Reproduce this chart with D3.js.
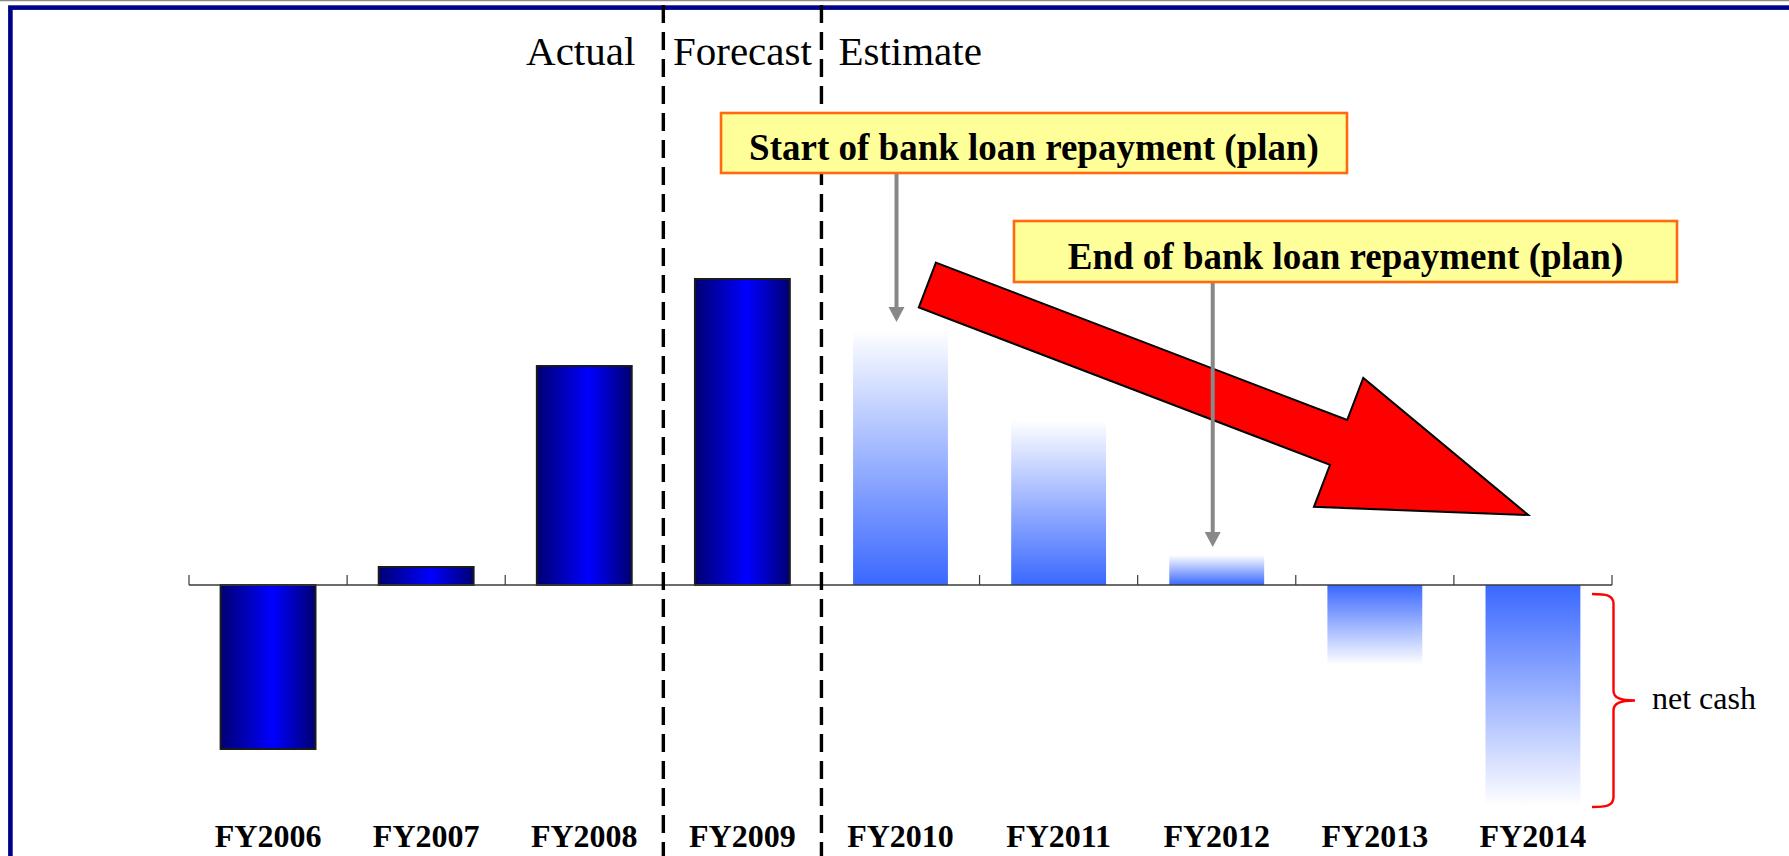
<!DOCTYPE html>
<html>
<head>
<meta charset="utf-8">
<script src="https://cdn.jsdelivr.net/npm/d3@7"></script>
<style>
  html, body { margin: 0; padding: 0; background: #fff; }
  svg { display: block; }
</style>
</head>
<body>
<svg id="chart" width="1789" height="856"></svg>
<script>
// Fiscal years and net cash position (positive = net debt above the line, negative = net cash)
const categories = ["FY2006", "FY2007", "FY2008", "FY2009", "FY2010", "FY2011", "FY2012", "FY2013", "FY2014"];
const netCash = [-16.4, 1.8, 21.9, 30.6, 25.5, 16.5, 3.0, -8.0, -22.1];
const phase = ["actual", "actual", "actual", "forecast", "estimate", "estimate", "estimate", "estimate", "estimate"];
const periodLabels = ["Actual", "Forecast", "Estimate"];
const noteTexts = ["Start of bank loan repayment (plan)", "End of bank loan repayment (plan)"];
const noteTargets = ["FY2010", "FY2012"];
const braceLabel = "net cash";
// Trend arrow: from just past FY2010 at 30.0 down to FY2014 at 7.0
const trendFrom = { cat: "FY2010", offset: 0.17, value: 30.0 };
const trendTo = { cat: "FY2014", offset: -0.03, value: 7.0 };

const W = 1789, H = 856;
const svg = d3.select("#chart");
const serif = "'Liberation Serif', 'Times New Roman', Times, serif";

const x = d3.scaleBand()
  .domain(categories)
  .range([189, 1612])
  .paddingInner(0.4)
  .paddingOuter(0.2);
const y = d3.scaleLinear().domain([-25, 30]).range([835, 285]);
const step = x.step();
const x0 = x.range()[0];
const boundary = i => x0 + i * step;
const center = c => x(c) + x.bandwidth() / 2;

const defs = svg.append("defs");
// solid bars: dark edges, bright centre
const solid = defs.append("linearGradient").attr("id", "solidBlue")
  .attr("x1", 0).attr("x2", 1).attr("y1", 0).attr("y2", 0);
solid.append("stop").attr("offset", "0%").attr("stop-color", "#000072");
solid.append("stop").attr("offset", "55%").attr("stop-color", "#0000ff");
solid.append("stop").attr("offset", "100%").attr("stop-color", "#000072");
// estimate bars: blue at the axis, fading to white
const fadeUp = defs.append("linearGradient").attr("id", "fadeUp")
  .attr("x1", 0).attr("x2", 0).attr("y1", 1).attr("y2", 0);
fadeUp.append("stop").attr("offset", "0%").attr("stop-color", "#3a68ff");
fadeUp.append("stop").attr("offset", "100%").attr("stop-color", "#ffffff");
const fadeDown = defs.append("linearGradient").attr("id", "fadeDown")
  .attr("x1", 0).attr("x2", 0).attr("y1", 0).attr("y2", 1);
fadeDown.append("stop").attr("offset", "0%").attr("stop-color", "#3a68ff");
fadeDown.append("stop").attr("offset", "100%").attr("stop-color", "#ffffff");

// page frame
svg.append("line").attr("x1", 0).attr("x2", W).attr("y1", 0.6).attr("y2", 0.6)
  .attr("stroke", "#8a8a8a").attr("stroke-width", 1.5);
svg.append("rect").attr("x", 10.4).attr("y", 7.6).attr("width", W + 20).attr("height", H + 20)
  .attr("fill", "none").attr("stroke", "#00008b").attr("stroke-width", 4.6);

const data = categories.map((c, i) => ({ cat: c, value: netCash[i], phase: phase[i] }));

// bars
svg.append("g").selectAll("rect")
  .data(data)
  .join("rect")
  .attr("x", d => x(d.cat))
  .attr("width", x.bandwidth())
  .attr("y", d => y(Math.max(0, d.value)))
  .attr("height", d => Math.abs(y(d.value) - y(0)))
  .attr("fill", d => d.phase === "estimate"
    ? (d.value >= 0 ? "url(#fadeUp)" : "url(#fadeDown)")
    : "url(#solidBlue)")
  .attr("stroke", d => d.phase === "estimate" ? "none" : "#1a1a1a")
  .attr("stroke-width", 2);

// baseline with upward ticks at category boundaries
const axis = svg.append("g");
axis.append("line")
  .attr("x1", boundary(0)).attr("x2", boundary(categories.length))
  .attr("y1", y(0)).attr("y2", y(0))
  .attr("stroke", "#3a3a3a").attr("stroke-width", 1.5);
axis.selectAll("line.tick")
  .data(d3.range(categories.length + 1))
  .join("line").attr("class", "tick")
  .attr("x1", i => boundary(i)).attr("x2", i => boundary(i))
  .attr("y1", y(0)).attr("y2", y(0) - 10)
  .attr("stroke", "#3a3a3a").attr("stroke-width", 1.2);

// category labels
svg.append("g").selectAll("text")
  .data(categories)
  .join("text")
  .attr("x", c => center(c))
  .attr("y", 847)
  .attr("text-anchor", "middle")
  .attr("font-family", serif)
  .attr("font-weight", "bold")
  .attr("font-size", 32)
  .attr("fill", "#000")
  .text(c => c);

// period separators
const firstForecast = phase.indexOf("forecast");
const firstEstimate = phase.indexOf("estimate");
svg.append("g").selectAll("line")
  .data([firstForecast, firstEstimate])
  .join("line")
  .attr("x1", i => boundary(i)).attr("x2", i => boundary(i))
  .attr("y1", 5).attr("y2", H)
  .attr("stroke", "#000").attr("stroke-width", 3.4)
  .attr("stroke-dasharray", "18 9");

// period labels
const periodPos = [
  { x: boundary(firstForecast) - 28, anchor: "end" },
  { x: (boundary(firstForecast) + boundary(firstEstimate)) / 2, anchor: "middle" },
  { x: boundary(firstEstimate) + 17, anchor: "start" }
];
svg.append("g").selectAll("text")
  .data(periodLabels)
  .join("text")
  .attr("x", (d, i) => periodPos[i].x)
  .attr("y", 65)
  .attr("text-anchor", (d, i) => periodPos[i].anchor)
  .attr("font-family", serif)
  .attr("font-size", 41)
  .attr("fill", "#000")
  .text(d => d);

// trend arrow
(function () {
  const T = [center(trendFrom.cat) + trendFrom.offset * step, y(trendFrom.value)];
  const P = [center(trendTo.cat) + trendTo.offset * step, y(trendTo.value)];
  const dx = P[0] - T[0], dy = P[1] - T[1];
  const L = Math.hypot(dx, dy);
  const u = [dx / L, dy / L];
  const n = [-u[1], u[0]];
  const shaftHalf = 24, headHalf = 69, headLen = 203;
  const B = [P[0] - u[0] * headLen, P[1] - u[1] * headLen];
  const pt = (p, k) => [p[0] + n[0] * k, p[1] + n[1] * k];
  const poly = [pt(T, -shaftHalf), pt(B, -shaftHalf), pt(B, -headHalf), P,
                pt(B, headHalf), pt(B, shaftHalf), pt(T, shaftHalf)];
  svg.append("path")
    .attr("d", d3.line()(poly) + "Z")
    .attr("fill", "#ff0000")
    .attr("stroke", "#000")
    .attr("stroke-width", 2)
    .attr("stroke-linejoin", "miter");
})();

// note boxes with pointers to the bars
const noteBoxes = [
  { left: 721, top: 113, width: 626, height: 60 },
  { left: 1014, top: 221, width: 663, height: 61 }
];
const notes = svg.append("g");
noteTexts.forEach((t, i) => {
  const b = noteBoxes[i];
  const target = noteTargets[i];
  const tx = center(target) - 4;
  const value = netCash[categories.indexOf(target)];
  const tipY = y(value) - 8;
  notes.append("line")
    .attr("x1", tx).attr("x2", tx)
    .attr("y1", b.top + b.height).attr("y2", tipY - 14)
    .attr("stroke", "#888").attr("stroke-width", 4);
  notes.append("path")
    .attr("d", d3.line()([[tx - 8, tipY - 15], [tx + 8, tipY - 15], [tx, tipY]]) + "Z")
    .attr("fill", "#888");
  notes.append("rect")
    .attr("x", b.left).attr("y", b.top)
    .attr("width", b.width).attr("height", b.height)
    .attr("fill", "#ffff99")
    .attr("stroke", "#ff6a10").attr("stroke-width", 2.6);
  notes.append("text")
    .attr("x", b.left + b.width / 2)
    .attr("y", b.top + b.height - 13.5)
    .attr("text-anchor", "middle")
    .attr("font-family", serif)
    .attr("font-weight", "bold")
    .attr("font-size", 37)
    .attr("fill", "#000")
    .text(t);
});

// brace marking the net cash range
(function () {
  const top = y(0) + 9;
  const bot = y(d3.min(netCash)) + 1;
  const mid = (top + bot) / 2;
  const xe = 1592, xs = 1613.5, xt = 1635;
  const d = `M${xe},${top} C${xe + 14},${top} ${xs},${top + 1} ${xs},${top + 10}`
    + ` L${xs},${mid - 10} C${xs},${mid - 3} ${xs + 6},${mid} ${xt},${mid}`
    + ` C${xs + 6},${mid} ${xs},${mid + 3} ${xs},${mid + 10}`
    + ` L${xs},${bot - 10} C${xs},${bot - 1} ${xe + 14},${bot} ${xe},${bot}`;
  svg.append("path").attr("d", d)
    .attr("fill", "none").attr("stroke", "#ff0000").attr("stroke-width", 2.4);
  svg.append("text")
    .attr("x", 1652).attr("y", mid + 8)
    .attr("font-family", serif)
    .attr("font-size", 32)
    .attr("fill", "#000")
    .text(braceLabel);
})();
</script>
</body>
</html>
